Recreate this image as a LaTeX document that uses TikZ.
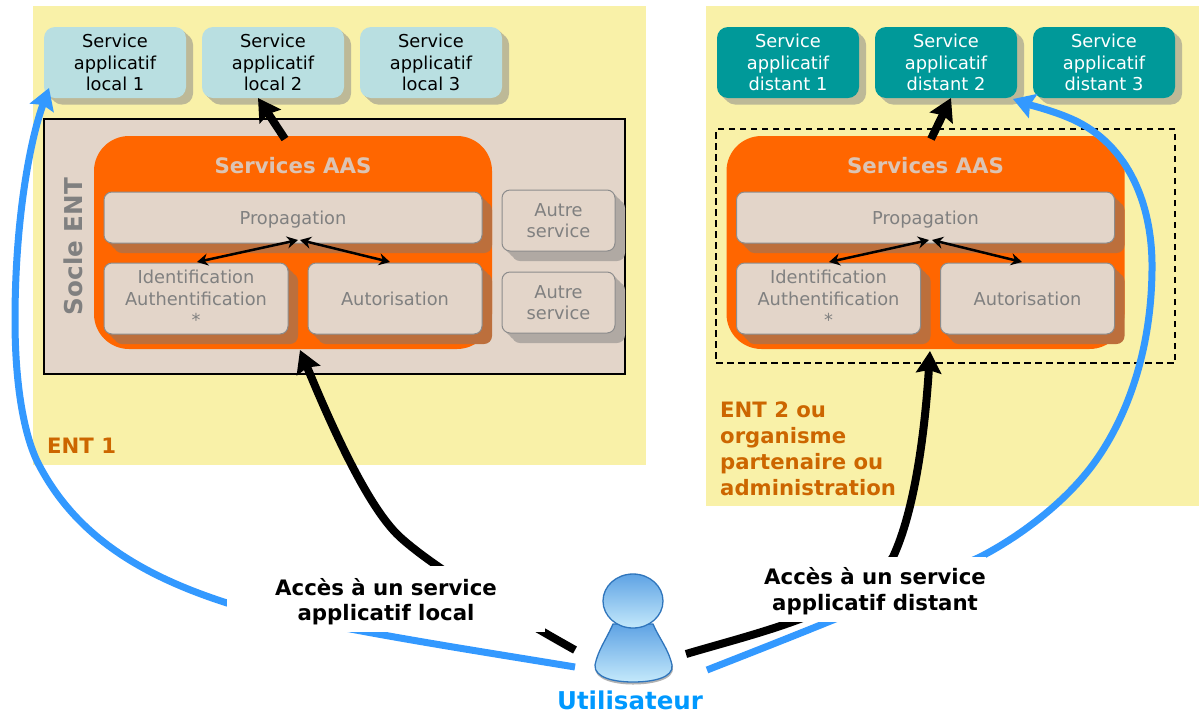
\documentclass[tikz,border=0pt]{standalone}
\usepackage{fontspec}
\setmainfont{DejaVu Sans}
\usetikzlibrary{arrows.meta,shadows}
\definecolor{ent}{HTML}{F9F1A8}
\definecolor{lightbox}{HTML}{B9DFE1}
\definecolor{teal2}{HTML}{009999}
\definecolor{socle}{HTML}{E3D5C9}
\definecolor{orangeaas}{HTML}{FF6600}
\definecolor{shyellow}{HTML}{BDB997}
\definecolor{shorange}{HTML}{BC6F3C}
\definecolor{shgrey}{HTML}{B0A9A3}
\definecolor{greytxt}{HTML}{808080}
\definecolor{bluearrow}{HTML}{3399FF}
\definecolor{bluetxt}{HTML}{0099FF}
\definecolor{enttxt}{HTML}{CC6600}
\definecolor{aastxt}{HTML}{DCC4B4}
\definecolor{iconline}{HTML}{2F75BC}
\definecolor{icontop}{HTML}{5FA3E4}
\definecolor{iconmid}{HTML}{86BEEE}
\definecolor{iconlow}{HTML}{C4E9FB}
\tikzset{
 x=1pt,y=-1pt,
 extrude/.style n args={3}{
   general shadow={shadow xshift=#1*0.33,shadow yshift=-#2*0.33,fill=#3},
   general shadow={shadow xshift=#1*0.67,shadow yshift=-#2*0.67,fill=#3},
   general shadow={shadow xshift=#1,shadow yshift=-#2,fill=#3}},
 svc/.style={rounded corners=11pt,minimum width=142pt,minimum height=71pt,inner sep=0pt,align=center,
   font=\fontsize{17.8}{21.7}\selectfont,extrude={7pt}{6.5pt}{shyellow}},
 svcl/.style={svc,fill=lightbox,text=black},
 svcd/.style={svc,fill=teal2,text=white},
 innerbox/.style={rounded corners=8pt,draw=gray!90,line width=1pt,fill=socle,text=greytxt,inner sep=0pt,align=center,
   font=\fontsize{17.8}{21.5}\selectfont,extrude={10pt}{10pt}{shorange}},
 otherbox/.style={rounded corners=8pt,draw=gray!90,line width=1pt,fill=socle,text=greytxt,inner sep=0pt,align=center,
   font=\fontsize{17.8}{21.5}\selectfont,minimum width=113pt,minimum height=61pt,extrude={10pt}{10pt}{shgrey}},
 oneline/.style={text height=14pt,text depth=0pt},
 aasbox/.style={rounded corners=35pt,fill=orangeaas,minimum width=398pt,minimum height=213pt,inner sep=0pt},
 bigblack/.style={line width=8pt,black,line join=round,-{Stealth[length=22pt,width=25pt,inset=3pt]}},
 bigblue/.style={line width=7pt,bluearrow,line join=round,-{Stealth[length=21pt,width=25pt,inset=3pt]}},
 smallarrow/.style={line width=2.5pt,black,{Stealth[length=11pt,width=12pt]}-{Stealth[length=11pt,width=12pt]}},
 blab/.style={fill=white,inner sep=0pt,align=center,font=\fontsize{21.3}{25.5}\selectfont\bfseries},
 aastitle/.style={text=aastxt,font=\fontsize{21.3}{26}\selectfont\bfseries},
 enttitle/.style={text=enttxt,font=\fontsize{21.2}{26}\selectfont\bfseries,align=left,inner sep=0pt},
 iconpart/.style={draw=iconline,line width=1.3pt},
}
\begin{document}
\begin{tikzpicture}
\useasboundingbox (0,0) rectangle (1199,713);
\fill[white] (0,0) rectangle (1199,713);
% ENT zones
\fill[ent] (33,6) rectangle (646,465);
\fill[ent] (706,6) rectangle (1199,506);
% Local services
\node[svcl] (l1) at (115,62.5) {Service\\applicatif\\local 1};
\node[svcl] (l2) at (273,62.5) {Service\\applicatif\\local 2};
\node[svcl] (l3) at (431,62.5) {Service\\applicatif\\local 3};
\node[svcd] (d1) at (788,62.5) {Service\\applicatif\\distant 1};
\node[svcd] (d2) at (946,62.5) {Service\\applicatif\\distant 2};
\node[svcd] (d3) at (1104,62.5) {Service\\applicatif\\distant 3};
% Socle
\node[draw=black,line width=1.5pt,fill=socle,minimum width=581pt,minimum height=255pt,inner sep=0pt] (socle) at (334.5,246.5) {};
\node[rotate=90,text=greytxt,font=\fontsize{24.6}{30}\selectfont\bfseries,inner sep=0pt] (soclelab) at (73,246.5) {Socle ENT};
\node[draw=black,dash pattern=on 6.5pt off 4.5pt,line width=1.4pt,minimum width=459pt,minimum height=234pt,inner sep=0pt] (ent2box) at (945.5,246) {};
% Left AAS
\node[aasbox] (aasL) at (293,242.5) {};
\node[aastitle] (aasLt) at (293,166) {Services AAS};
\node[innerbox,oneline,minimum width=378pt,minimum height=51pt] (propL) at (293,217.5) {Propagation};
\node[innerbox,minimum width=184pt,minimum height=71pt] (idL) at (196,298.5) {Identification\\Authentification\\*};
\node[innerbox,oneline,minimum width=174pt,minimum height=71pt] (autL) at (395,298.5) {Autorisation};
\node[otherbox] (o1) at (558.5,220.5) {Autre\\service};
\node[otherbox] (o2) at (558.5,302.5) {Autre\\service};
% Right AAS
\node[aasbox] (aasR) at (925.5,242.5) {};
\node[aastitle] (aasRt) at (925.5,166) {Services AAS};
\node[innerbox,oneline,minimum width=378pt,minimum height=51pt] (propR) at (925.5,217.5) {Propagation};
\node[innerbox,minimum width=184pt,minimum height=71pt] (idR) at (828.5,298.5) {Identification\\Authentification\\*};
\node[innerbox,oneline,minimum width=174pt,minimum height=71pt] (autR) at (1027.5,298.5) {Autorisation};
% Titles
\node[enttitle,anchor=west] (ent1) at (47,446) {ENT 1};
\node[enttitle,anchor=north west] (ent2) at (720,401.5) {ENT 2 ou\\organisme\\partenaire ou\\administration};
% Coordinates
\coordinate (uL) at (575,650);
\coordinate (uLb) at (575,667);
\coordinate (uR) at (686,654);
\coordinate (uRb) at (707,670);
\coordinate (tipL1) at (49,88);
\coordinate (tipR2) at (1013,99);
\coordinate (tipAL) at (300,350);
\coordinate (tipAR) at (930,351);
\coordinate (tipL2) at (258,98);
\coordinate (tipD2) at (951,98);
\coordinate (aL) at (285,139);
\coordinate (aR) at (931,139);
\coordinate (jL) at (298,240);
\coordinate (jLb) at (300,240);
\coordinate (jR) at (929,240);
\coordinate (jRb) at (932,240);
\coordinate (iL) at (197,262);
\coordinate (zL) at (390,262);
\coordinate (iR) at (829,262);
\coordinate (zR) at (1022,262);
% Small arrows
\draw[smallarrow] (iL) -- (jL);
\draw[smallarrow] (jLb) -- (zL);
\draw[smallarrow] (iR) -- (jR);
\draw[smallarrow] (jRb) -- (zR);
\draw[bigblack] (aL) -- (tipL2);
\draw[bigblack] (aR) -- (tipD2);
% Long arrows
\draw[bigblack] (uL) .. controls (525,622) and (436,570) .. (400,537) .. controls (365,505) and (325,410) .. (tipAL);
\draw[bigblack] (uR) .. controls (760,632) and (860,610) .. (893,557) .. controls (915,510) and (925,430) .. (tipAR);
\draw[bigblue] (uLb) .. controls (460,648) and (340,630) .. (227,603) .. controls (140,575) and (75,535) .. (38,463) .. controls (24,435) and (15,385) .. (15,320) .. controls (15,220) and (30,140) .. (tipL1);
\draw[bigblue] (uRb) .. controls (750,653) and (880,603) .. (980,557) .. controls (1015,539) and (1055,510) .. (1083,477) .. controls (1115,440) and (1151,370) .. (1152,270) .. controls (1153,200) and (1125,140) .. (1067,117) .. controls (1050,110) and (1030,105) .. (tipR2);
% Labels
\node[blab,minimum width=318pt,minimum height=66pt] (labL) at (386,599) {\rule{0pt}{22pt}Accès à un service\\applicatif local};
\node[blab,minimum width=222pt,minimum height=65pt] (labR) at (875,589.5) {\rule{0pt}{20pt}Accès à un service\\applicatif distant};
% User
\node[inner sep=0pt,minimum width=78pt,minimum height=108pt] (user) at (633,628) {};
\fill[gray!60] (613,626) .. controls (606,642) and (598,652) .. (595,667) .. controls (594,680) and (615,684.5) .. (633,684.5) .. controls (652,684.5) and (675,680) .. (673,667) .. controls (669,650) and (660,642) .. (653,626) -- cycle;
\shade[iconpart,top color=icontop,middle color=iconmid,bottom color=iconlow]
 (613,624) .. controls (606,640) and (598,650) .. (595,665) .. controls (594,678) and (615,682) .. (633,682) .. controls (652,682) and (674,678) .. (672,665) .. controls (668,648) and (660,640) .. (653,624) -- cycle;
\shade[iconpart,top color=icontop,middle color=iconmid,bottom color=iconlow] (633,601) ellipse[x radius=30,y radius=27];
\node[text=bluetxt,font=\fontsize{24.5}{30}\selectfont\bfseries,inner sep=0pt] (userlab) at (630,700.5) {Utilisateur};
\end{tikzpicture}
\end{document}
